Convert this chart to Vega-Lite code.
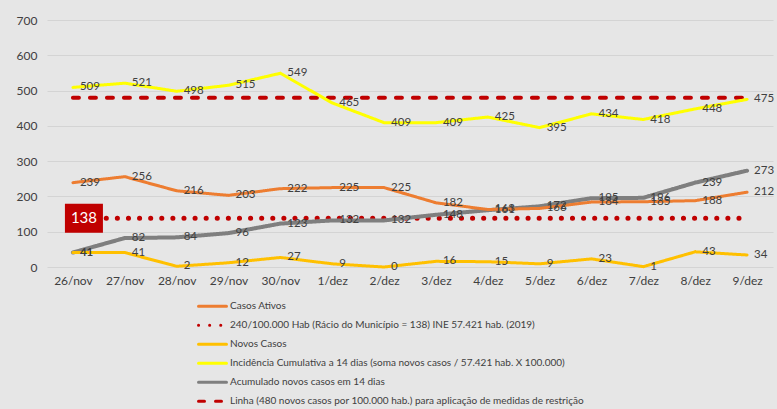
{
  "$schema": "https://vega.github.io/schema/vega-lite/v6.json",
  "autosize": "none",
  "width": 726,
  "height": 247,
  "padding": {"left": 47, "top": 20, "right": 4, "bottom": 142},
  "background": "#e6e6e6",
  "data": {
    "values": [
      {"d": "26/nov", "A": 239, "B": 138, "C": 41, "D": 509, "E": 41, "F": 480},
      {"d": "27/nov", "A": 256, "B": 138, "C": 41, "D": 521, "E": 82, "F": 480},
      {"d": "28/nov", "A": 216, "B": 138, "C": 2, "D": 498, "E": 84, "F": 480},
      {"d": "29/nov", "A": 203, "B": 138, "C": 12, "D": 515, "E": 96, "F": 480},
      {"d": "30/nov", "A": 222, "B": 138, "C": 27, "D": 549, "E": 123, "F": 480},
      {"d": "1/dez", "A": 225, "B": 138, "C": 9, "D": 465, "E": 132, "F": 480},
      {"d": "2/dez", "A": 225, "B": 138, "C": 0, "D": 409, "E": 132, "F": 480},
      {"d": "3/dez", "A": 182, "B": 138, "C": 16, "D": 409, "E": 148, "F": 480},
      {"d": "4/dez", "A": 163, "B": 138, "C": 15, "D": 425, "E": 161, "F": 480},
      {"d": "5/dez", "A": 166, "B": 138, "C": 9, "D": 395, "E": 172, "F": 480},
      {"d": "6/dez", "A": 184, "B": 138, "C": 23, "D": 434, "E": 195, "F": 480},
      {"d": "7/dez", "A": 185, "B": 138, "C": 1, "D": 418, "E": 196, "F": 480},
      {"d": "8/dez", "A": 188, "B": 138, "C": 43, "D": 448, "E": 239, "F": 480},
      {"d": "9/dez", "A": 212, "B": 138, "C": 34, "D": 475, "E": 273, "F": 480}
    ]
  },
  "transform": [{"fold": ["A", "B", "C", "D", "E", "F"], "as": ["s", "v"]}],
  "encoding": {
    "x": {
      "field": "d", "type": "ordinal",
      "sort": ["26/nov","27/nov","28/nov","29/nov","30/nov","1/dez","2/dez","3/dez","4/dez","5/dez","6/dez","7/dez","8/dez","9/dez"],
      "scale": {"type": "point", "padding": 0.5},
      "axis": {"title": null, "labelAngle": 0, "ticks": false, "domain": false, "grid": false, "labelPadding": 8, "labelFont": "Lato", "labelFontSize": 12, "labelColor": "#404040"}
    },
    "y": {
      "field": "v", "type": "quantitative",
      "scale": {"domain": [0, 700], "nice": false},
      "axis": {"title": null, "values": [0,100,200,300,400,500,600,700], "ticks": false, "domain": false, "grid": true, "gridColor": "#d4d4d4", "gridWidth": 1, "labelPadding": 10, "labelFont": "Lato", "labelFontSize": 12, "labelColor": "#404040"}
    }
  },
  "layer": [
    {"transform": [{"filter": "datum.s == 'F'"}], "mark": {"type": "line", "strokeWidth": 4, "strokeCap": "round"},
     "encoding": {
       "color": {"field": "s", "type": "nominal",
         "scale": {"domain": ["A","B","C","D","E","F"], "range": ["#ED7D31","#C00000","#FFC000","#FFFF00","#7F7F7F","#C00000"]},
         "legend": {
           "orient": "none", "legendX": 150, "legendY": 277, "title": null,
           "symbolType": "stroke", "symbolSize": 784, "symbolStrokeWidth": 3, "symbolOffset": 0,
           "labelFont": "Lato", "labelFontSize": 10, "labelColor": "#404040", "labelOffset": 2, "rowPadding": 0,
           "clipHeight": 18.7,
           "labelLimit": 500,
           "encode": {"symbols": {"update": {"strokeCap": {"value": "round"}}}},
           "labelExpr": "datum.label == 'A' ? 'Casos Ativos' : datum.label == 'B' ? ' 240/100.000 Hab (Rácio do Município = 138) INE  57.421 hab. (2019)' : datum.label == 'C' ? 'Novos Casos' : datum.label == 'D' ? 'Incidência Cumulativa a 14 dias (soma novos casos / 57.421 hab. X 100.000)' : datum.label == 'E' ? 'Acumulado novos casos em 14 dias' : 'Linha (480 novos casos por 100.000 hab.) para aplicação de medidas de restrição'"
         }},
       "strokeDash": {"field": "s", "type": "nominal", "scale": {"domain": ["A","B","C","D","E","F"], "range": [[1,0],[0.1,11],[1,0],[1,0],[1,0],[6,11]]}}}},
    {"transform": [{"filter": "datum.s == 'B'"}], "mark": {"type": "line", "strokeWidth": 5, "strokeCap": "round"},
     "encoding": {"color": {"field": "s", "type": "nominal"}, "strokeDash": {"field": "s", "type": "nominal"}}},
    {"transform": [{"filter": "datum.s == 'E'"}], "mark": {"type": "line", "strokeWidth": 4, "strokeCap": "round"},
     "encoding": {"color": {"field": "s", "type": "nominal"}, "strokeDash": {"field": "s", "type": "nominal"}}},
    {"transform": [{"filter": "datum.s == 'A'"}], "mark": {"type": "line", "strokeWidth": 3, "strokeCap": "round"},
     "encoding": {"color": {"field": "s", "type": "nominal"}, "strokeDash": {"field": "s", "type": "nominal"}}},
    {"transform": [{"filter": "datum.s == 'C'"}], "mark": {"type": "line", "strokeWidth": 3, "strokeCap": "round"},
     "encoding": {"color": {"field": "s", "type": "nominal"}, "strokeDash": {"field": "s", "type": "nominal"}}},
    {"transform": [{"filter": "datum.s == 'D'"}], "mark": {"type": "line", "strokeWidth": 3, "strokeCap": "round"},
     "encoding": {"color": {"field": "s", "type": "nominal"}, "strokeDash": {"field": "s", "type": "nominal"}}},
    {"transform": [{"filter": "datum.s == 'A' || datum.s == 'C' || datum.s == 'D' || datum.s == 'E'"}],
     "mark": {"type": "text", "align": "left", "baseline": "middle", "dx": 7, "font": "Lato", "fontSize": 11.5, "fill": "#404040"},
     "encoding": {"text": {"field": "v", "type": "quantitative"}}},
    {"transform": [{"filter": "datum.s == 'B' && datum.d == '26/nov'"}],
     "mark": {"type": "point", "shape": "M -1 -0.76 L 1 -0.76 L 1 0.76 L -1 0.76 Z", "size": 1444, "filled": true, "fill": "#C00000", "opacity": 1, "xOffset": 11, "stroke": null}},
    {"transform": [{"filter": "datum.s == 'B' && datum.d == '26/nov'"}],
     "mark": {"type": "text", "align": "center", "baseline": "middle", "dx": 11, "font": "Lato", "fontSize": 15, "fill": "#ffffff"},
     "encoding": {"text": {"field": "v", "type": "quantitative"}}}
  ],
  "config": {
    "view": {"stroke": null}
  }
}
